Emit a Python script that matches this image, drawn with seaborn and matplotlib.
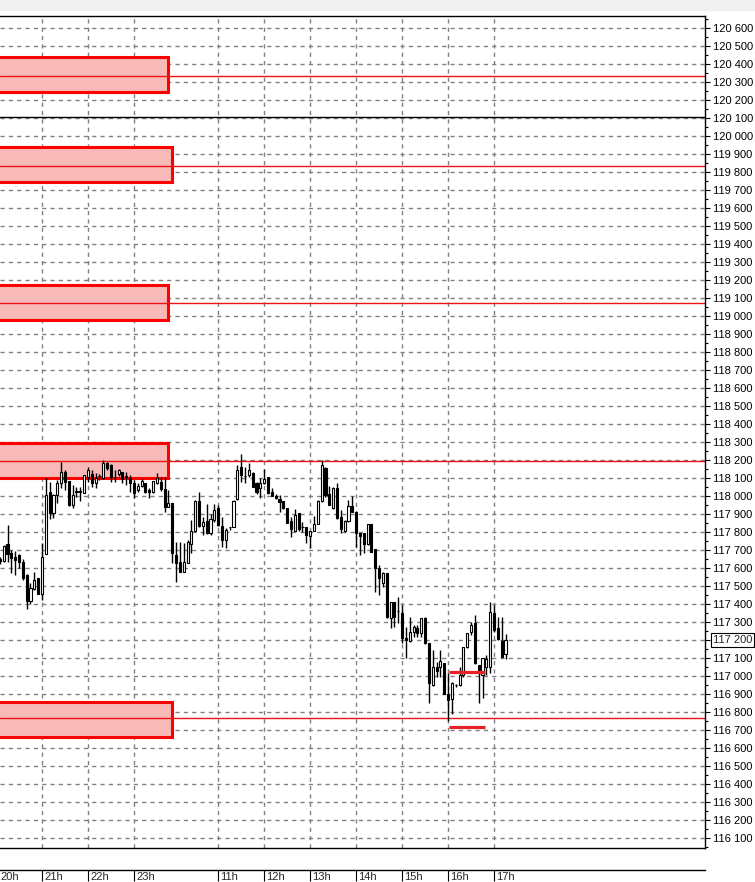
import numpy as np
import pandas as pd
import seaborn as sns
import matplotlib.pyplot as plt
from matplotlib.patches import Rectangle
from matplotlib.ticker import MultipleLocator, FuncFormatter
from matplotlib.transforms import blended_transform_factory

# 5-minute candles (index 1 = first visible bar)
opens = [117650, 117640, 117732, 117682, 117662, 117672, 117632, 117561, 117419, 117482,
         117543, 117458, 117680, 118020, 117903, 118005, 118070, 118131, 118083, 117950,
         118020, 118024, 118018, 118107, 118122, 118070, 118110, 118098, 118181, 118172,
         118105, 118120, 118131, 118110, 118098, 118070, 118033, 118055, 118070, 118033,
         118020, 118070, 118079, 118038, 117940, 117959, 117672, 117635, 117577, 117629,
         117731, 117805, 117972, 117831, 117860, 117792, 117866, 117931, 117833, 117755,
         117825, 117829, 117981, 118162, 118112, 118116, 118129, 118074, 118042, 118070,
         118103, 118024, 118001, 117983, 117972, 117931, 117860, 117807, 117903, 117827,
         117829, 117779, 117805, 117844, 117972, 118153, 118009, 117931, 118042, 117881,
         117805, 117860, 117944, 117912, 117792, 117792, 117731, 117844, 117705, 117601,
         117518, 117570, 117320, 117409, 117361, 117348, 117209, 117196, 117246, 117268,
         117240, 117320, 117185, 116950, 117048, 117048, 117070, 116898, 116870, 116948,
         116950, 117005, 117159, 117246, 117292, 117060, 117005, 117048, 117051, 117348,
         117268, 117196, 117120]
highs = [117660, 117730, 117840, 117700, 117695, 117675, 117650, 117565, 117515, 117576,
         117545, 117737, 118102, 118080, 118010, 118088, 118190, 118144, 118085, 118060,
         118048, 118048, 118116, 118162, 118144, 118125, 118122, 118199, 118190, 118177,
         118144, 118148, 118131, 118131, 118116, 118088, 118070, 118092, 118070, 118042,
         118083, 118125, 118107, 118107, 118033, 117959, 117746, 117746, 117737, 117755,
         117866, 117977, 118024, 117885, 117955, 117900, 117955, 117949, 117885, 117820,
         117829, 117977, 118172, 118236, 118162, 118181, 118135, 118079, 118098, 118149,
         118103, 118042, 118011, 118005, 117972, 117931, 117885, 117925, 117903, 117857,
         117829, 117805, 117888, 117977, 118199, 118162, 118055, 118051, 118070, 117922,
         117866, 117977, 118000, 117912, 117796, 117792, 117844, 117844, 117705, 117616,
         117579, 117570, 117413, 117409, 117440, 117394, 117274, 117329, 117283, 117283,
         117320, 117325, 117185, 117144, 117079, 117144, 117070, 117014, 116968, 116955,
         117048, 117159, 117240, 117301, 117338, 117060, 117098, 117116, 117413, 117394,
         117329, 117325, 117233]
lows = [117620, 117635, 117632, 117570, 117561, 117598, 117533, 117372, 117398, 117478,
        117454, 117422, 117675, 117872, 117875, 117959, 118042, 118033, 117945, 117931,
        117996, 117974, 118014, 118079, 118051, 118042, 118088, 118092, 118144, 118079,
        118079, 118110, 118070, 118060, 118024, 117987, 118024, 118051, 118018, 117987,
        118014, 118066, 118029, 117912, 117940, 117625, 117524, 117577, 117577, 117625,
        117681, 117801, 117829, 117783, 117788, 117783, 117857, 117833, 117718, 117709,
        117810, 117829, 117977, 118079, 118070, 118107, 118051, 118011, 117987, 118066,
        118011, 118001, 117981, 117912, 117925, 117848, 117774, 117807, 117807, 117801,
        117737, 117709, 117805, 117844, 117968, 117996, 117949, 117925, 117870, 117796,
        117801, 117857, 117912, 117718, 117672, 117681, 117727, 117690, 117468, 117450,
        117496, 117320, 117264, 117274, 117292, 117181, 117101, 117190, 117218, 117214,
        117214, 117177, 116848, 116944, 116996, 116996, 116898, 116751, 116788, 116940,
        116944, 116996, 117155, 117227, 117066, 116851, 116875, 117005, 117014, 117246,
        117200, 117107, 117096]
closes = [117640, 117722, 117680, 117658, 117646, 117632, 117546, 117419, 117491, 117532,
          117458, 117660, 118006, 117904, 118005, 118070, 118131, 118079, 117950, 118005,
          118025, 118024, 118116, 118144, 118070, 118098, 118112, 118181, 118153, 118107,
          118107, 118144, 118092, 118105, 118070, 118018, 118055, 118083, 118024, 118020,
          118083, 118098, 118038, 117940, 117959, 117681, 117629, 117577, 117633, 117746,
          117805, 117973, 117831, 117857, 117792, 117872, 117922, 117838, 117755, 117810,
          117827, 117972, 118144, 118116, 118110, 118144, 118051, 118024, 118072, 118092,
          118018, 118001, 117990, 117964, 117931, 117851, 117816, 117894, 117816, 117829,
          117783, 117805, 117844, 117972, 118172, 118005, 117949, 118042, 117875, 117814,
          117860, 117944, 117912, 117792, 117779, 117731, 117844, 117690, 117598, 117542,
          117570, 117329, 117409, 117329, 117361, 117209, 117200, 117246, 117274, 117240,
          117320, 117181, 116959, 117048, 117029, 117083, 116898, 116866, 116959, 116950,
          117005, 117159, 117240, 117283, 117070, 117033, 117098, 117092, 117357, 117255,
          117203, 117107, 117200]

hour_pos = [12, 24, 36, 58, 70, 82, 94, 106, 118, 130]
hour_labels = ['21h', '22h', '23h', '11h', '12h', '13h', '14h', '15h', '16h', '17h']

zone_top = [120440, 119940, 119170, 118295, 116855]
zone_bottom = [120245, 119745, 118980, 118100, 116660]
zone_end = [44.9, 45.9, 44.9, 44.9, 45.9]
red_levels = [120335, 119835, 119075, 118195, 116765]
black_level = 120105
seg_prices = [117020, 116717]
seg_from, seg_to = 118.2, 127.6
last_price = 117200

sns.set_style('white')
plt.rcParams['font.family'] = ['Liberation Sans', 'DejaVu Sans']

df = pd.DataFrame({'open': opens, 'high': highs, 'low': lows, 'close': closes})
df['k'] = np.arange(1, len(df) + 1)
df['up'] = df['close'] >= df['open']
df['body_lo'] = df[['open', 'close']].min(axis=1)
df['body_h'] = (df['close'] - df['open']).abs().clip(lower=2)

fig = plt.figure(figsize=(7.55, 8.82), dpi=100)
fig.add_artist(Rectangle((0, 872 / 882), 1, 10 / 882, transform=fig.transFigure,
                         color='#f0f0f0', zorder=0))

ax = fig.add_axes([0, 34 / 882, 705 / 755, 832 / 882])
ax.set_xlim(1.04, 185.07)
ax.set_ylim(116044, 120667)

# grid
for p in range(116100, 120700, 100):
    ax.axhline(p, color='#808080', lw=1, ls=(0, (3, 3)), zorder=0)
for h in hour_pos:
    ax.axvline(h, color='#808080', lw=1, ls=(0, (3, 3)), zorder=0)

# zones and levels
for top, bot, end in zip(zone_top, zone_bottom, zone_end):
    ax.add_patch(Rectangle((-20, bot), end + 20, top - bot, facecolor='#f8b9b9',
                           edgecolor='#ff0000', lw=2.2, zorder=1))
for p in red_levels:
    ax.axhline(p, color='#ee1111', lw=1, zorder=2)
ax.axhline(black_level, color='black', lw=1, zorder=2)

# candles
ax.vlines(df['k'], df['low'], df['high'], color='black', lw=1, zorder=3)
ax.bar(df['k'], df['body_h'], bottom=df['body_lo'], width=0.55,
       color=np.where(df['up'], 'white', 'black'), edgecolor='black', lw=0.8, zorder=4)

for p in seg_prices:
    ax.hlines(p, seg_from, seg_to, color='#e8202a', lw=2.3, zorder=5)

# axes frame and right price scale
for side in ['left']:
    ax.spines[side].set_visible(False)
for side in ['top', 'right', 'bottom']:
    ax.spines[side].set_color('black')
    ax.spines[side].set_linewidth(1)
ax.set_xticks([])
ax.yaxis.tick_right()
ax.yaxis.set_major_locator(MultipleLocator(100))
ax.yaxis.set_minor_locator(MultipleLocator(50))
ax.yaxis.set_major_formatter(FuncFormatter(
    lambda v, pos: '' if round(v) == last_price else f'{int(round(v)):,}'.replace(',', ' ')))
ax.tick_params(axis='y', which='major', direction='out', length=3.6, width=0.8,
               pad=2, labelsize=8, colors='black')
ax.tick_params(axis='y', which='minor', direction='out', length=2.2, width=0.8,
               colors='black')
trans = blended_transform_factory(ax.transAxes, ax.transData)
ax.text(1 + 8 / 705, last_price, f'{last_price:,}'.replace(',', ' '), transform=trans,
        ha='left', va='center', fontsize=8,
        bbox=dict(boxstyle='square,pad=0.15', fc='white', ec='black', lw=0.8))

# time scale
ax2 = fig.add_axes([0, 0, 705 / 755, 12 / 882])
ax2.set_xlim(ax.get_xlim())
ax2.set_ylim(0, 1)
for side in ['left', 'right', 'bottom']:
    ax2.spines[side].set_visible(False)
ax2.spines['top'].set_linewidth(1)
ax2.spines['top'].set_color('black')
ax2.set_yticks([])
ax2.set_xticks(hour_pos)
ax2.tick_params(axis='x', top=True, bottom=False, direction='in', length=8,
                width=0.8, labelbottom=False, colors='black')
trans2 = blended_transform_factory(ax2.transData, ax2.transAxes)
for h, lab in zip(hour_pos, hour_labels):
    ax2.text(h + 0.55, 0.45, lab, transform=trans2, ha='left', va='center', fontsize=8)
ax2.text(0.001, 0.45, '20h', transform=ax2.transAxes, ha='left', va='center', fontsize=8)

fig.savefig('out.png', dpi=100)
